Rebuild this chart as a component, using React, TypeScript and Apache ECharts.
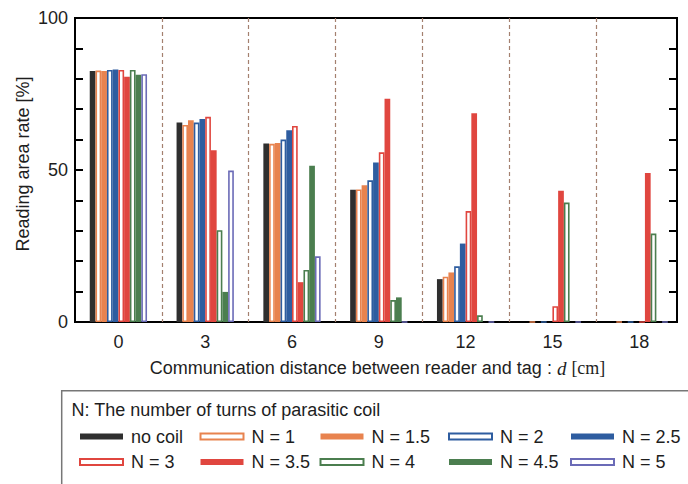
import React, { useEffect, useRef } from "react";
import * as echarts from "echarts";

const categories = ["0", "3", "6", "9", "12", "15", "18"];
const yTicks = [0, 50, 100];

const noCoil = [82.6, 65.6, 58.7, 43.5, 14.1, 0, 0];
const n1 = [82.7, 64.8, 58.6, 43.6, 14.9, 0, 0];
const n15 = [82.6, 66.4, 58.9, 45.0, 16.3, 0, 0];
const n2 = [82.9, 65.6, 60.0, 46.6, 18.3, 0, 0];
const n25 = [83.1, 66.8, 63.1, 52.5, 25.8, 0, 0];
const n3 = [82.9, 67.5, 64.5, 55.8, 36.5, 5.2, 0];
const n35 = [80.7, 56.5, 13.1, 73.4, 68.7, 43.2, 49.0];
const n4 = [82.9, 30.2, 17.1, 7.2, 2.2, 39.3, 29.1];
const n45 = [81.3, 9.9, 51.4, 8.1, 0, 0, 0];
const n5 = [81.5, 49.8, 21.6, 0, 0, 0, 0];

const seriesDefs = [
  { name: "no coil", data: noCoil, color: "#2f2f2f", hollow: false },
  { name: "N = 1", data: n1, color: "#E8834F", hollow: true },
  { name: "N = 1.5", data: n15, color: "#E8834F", hollow: false },
  { name: "N = 2", data: n2, color: "#2E5DA0", hollow: true },
  { name: "N = 2.5", data: n25, color: "#2E5DA0", hollow: false },
  { name: "N = 3", data: n3, color: "#E0463F", hollow: true },
  { name: "N = 3.5", data: n35, color: "#E0463F", hollow: false },
  { name: "N = 4", data: n4, color: "#4B7E4F", hollow: true },
  { name: "N = 4.5", data: n45, color: "#4B7E4F", hollow: false },
  { name: "N = 5", data: n5, color: "#6B6BB7", hollow: true },
];

const legendColumns = [
  ["no coil", "N = 3"],
  ["N = 1", "N = 3.5"],
  ["N = 1.5", "N = 4"],
  ["N = 2", "N = 4.5"],
  ["N = 2.5", "N = 5"],
];
const legendLefts = [79, 199.5, 319.5, 448, 570];

const FONT = "'Liberation Sans', Arial, sans-serif";
const SERIF = "'Liberation Serif', 'Times New Roman', serif";
const TEXT = "#1e1e1e";

const GRID_LEFT = 75;
const GRID_TOP = 18;
const GRID_H = 304;
const BAND = 86.8;
const FRAME_W = 602;

export default function App() {
  const ref = useRef<HTMLDivElement>(null);
  useEffect(() => {
    if (!ref.current) return;
    const chart = echarts.init(ref.current, null, { renderer: "svg" });
    const hiddenAxis = {
      axisLine: { show: false }, axisTick: { show: false }, axisLabel: { show: false }, splitLine: { show: false },
    };
    const option: any = {
      animation: false,
      backgroundColor: "#fff",
      textStyle: { fontFamily: FONT },
      grid: [
        { left: GRID_LEFT, top: GRID_TOP, width: BAND * categories.length, height: GRID_H, outerBoundsMode: "none" },
        {
          left: GRID_LEFT, top: GRID_TOP, width: FRAME_W, height: GRID_H, outerBoundsMode: "none",
          show: true, borderColor: "#000", borderWidth: 2, backgroundColor: "transparent",
        },
        { left: GRID_LEFT + FRAME_W, top: GRID_TOP, width: 10, height: GRID_H, outerBoundsMode: "none" },
      ],
      xAxis: [
        {
          type: "category", gridIndex: 0, data: categories, boundaryGap: true,
          axisLine: { show: false }, axisTick: { show: false }, splitLine: { show: false },
          axisLabel: { fontSize: 18, color: TEXT, margin: 11, fontFamily: FONT },
        },
        {
          type: "value", gridIndex: 1, min: 0, max: FRAME_W / BAND, interval: 1,
          axisLine: { show: false }, axisTick: { show: false }, axisLabel: { show: false },
          splitLine: {
            show: true, showMinLine: false, showMaxLine: false,
            lineStyle: { color: "#a4806f", type: [4, 3], width: 1.2 },
          },
        },
        { type: "value", gridIndex: 2, min: 0, max: 1, ...hiddenAxis },
      ],
      yAxis: [
        {
          type: "value", gridIndex: 0, min: 0, max: 100, interval: 10,
          axisLine: { show: false },
          axisTick: { show: true, inside: true, length: 8, lineStyle: { color: "#000", width: 2 } },
          splitLine: { show: false },
          axisLabel: {
            fontSize: 18, color: TEXT, margin: 7, fontFamily: FONT,
            formatter: (v: number) => (yTicks.indexOf(v) >= 0 ? String(v) : ""),
          },
        },
        { type: "value", gridIndex: 1, min: 0, max: 100, interval: 10, ...hiddenAxis },
        {
          type: "value", gridIndex: 2, min: 0, max: 100, interval: 10, position: "left",
          axisLine: { show: false },
          axisTick: { show: true, inside: false, length: 8, lineStyle: { color: "#000", width: 2 } },
          splitLine: { show: false }, axisLabel: { show: false },
        },
      ],
      title: {
        text: "N: The number of turns of parasitic coil",
        left: 71.5, top: 401, padding: 0,
        textStyle: { fontSize: 18, fontWeight: "normal", color: TEXT, fontFamily: FONT, lineHeight: 18 },
      },
      legend: legendColumns.map((col, i) => ({
        data: col,
        orient: "vertical",
        left: legendLefts[i],
        top: 427.5,
        padding: 0,
        itemGap: 7.5,
        itemWidth: 43,
        itemHeight: 6,
        icon: "rect",
        selectedMode: false,
        textStyle: { fontSize: 18, color: TEXT, fontFamily: FONT, lineHeight: 18, padding: [0, 0, 0, 3] },
      })),
      series: seriesDefs.map((s) => ({
        type: "bar",
        name: s.name,
        data: s.data,
        xAxisIndex: 0,
        yAxisIndex: 0,
        barGap: "0%",
        barCategoryGap: "34%",
        itemStyle: s.hollow
          ? { color: "#fff", borderColor: s.color, borderWidth: 1.6 }
          : { color: s.color },
      })),
      graphic: [
        {
          type: "rect",
          shape: { x: 61.7, y: 390.7, width: 700, height: 200 },
          style: { fill: "none", stroke: "#777", lineWidth: 1.5 },
          silent: true,
        },
        {
          type: "text",
          x: 23, y: 164, rotation: Math.PI / 2,
          style: {
            text: "Reading area rate [%]", fontSize: 18, fontFamily: FONT, fill: TEXT,
            align: "center", verticalAlign: "middle",
          },
        },
        {
          type: "text",
          x: 377.5, y: 368,
          style: {
            text: "{a|Communication distance between reader and tag : }{d|d}{a| }{c|[cm]}",
            align: "center", verticalAlign: "middle",
            rich: {
              a: { fontSize: 18, fontFamily: FONT, fill: TEXT, color: TEXT },
              d: { fontSize: 19, fontFamily: SERIF, fontStyle: "italic", fill: TEXT, color: TEXT },
              c: { fontSize: 18, fontFamily: SERIF, fill: TEXT, color: TEXT },
            },
          },
        },
      ],
    };
    chart.setOption(option);
    return () => chart.dispose();
  }, []);
  return <div ref={ref} style={{ width: 688, height: 484, position: "absolute", left: 0, top: 0 }} />;
}
